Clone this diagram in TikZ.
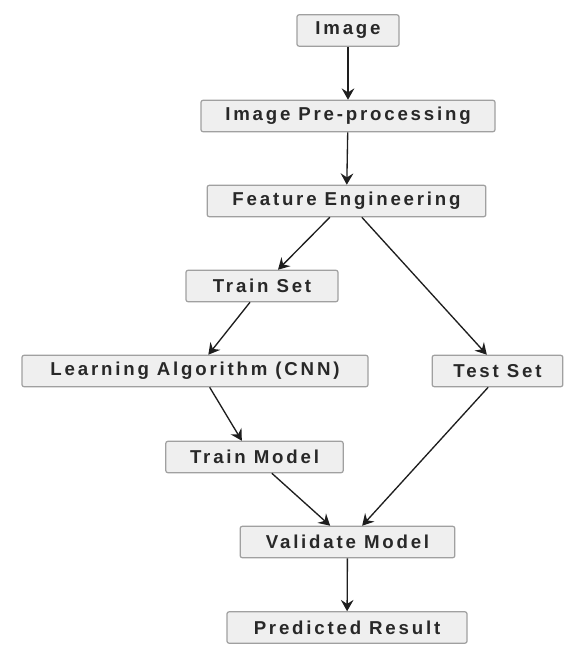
\documentclass[tikz,border=0pt]{standalone}
\usepackage{fontspec}
\setmainfont{Liberation Sans}[LetterSpace=15]
\usetikzlibrary{arrows.meta}
\definecolor{boxfill}{RGB}{239,239,239}
\definecolor{boxline}{RGB}{160,160,160}
\definecolor{boxtext}{RGB}{40,40,40}
\definecolor{flowline}{RGB}{30,30,30}
\tikzset{
	stage/.style={draw=boxline, fill=boxfill, rounded corners=1.5pt, line width=0.9pt,
		minimum height=23.5pt, inner sep=0pt, text=boxtext,
		font=\bfseries\fontsize{14}{16}\selectfont},
	flow/.style={draw=flowline, line width=1pt,
		-{Stealth[length=8.5pt,width=9.5pt,inset=3pt]}}
}
\begin{document}
\begin{tikzpicture}[x=0.75pt,y=0.75pt,yscale=-1,xscale=1]
	\useasboundingbox (0,0) rectangle (570,645);
	%Stages
	\node [stage, minimum width=76.5pt] (img) at (348,30.5) {Image};
	\node [stage, minimum width=220.5pt] (pre) at (348,116) {Image Pre-processing};
	\node [stage, minimum width=209pt] (feat) at (346.5,201) {Feature Engineering};
	\node [stage, minimum width=114pt] (train) at (262,286) {Train Set};
	\node [stage, minimum width=259.5pt] (cnn) at (195,371) {Learning Algorithm (CNN)};
	\node [stage, minimum width=98pt] (test) at (497.5,371) {Test Set};
	\node [stage, minimum width=133pt] (model) at (254.5,457) {Train Model};
	\node [stage, minimum width=161pt] (valid) at (347.5,542) {Validate Model};
	\node [stage, minimum width=180pt] (pred) at (347,627.5) {Predicted Result};
	%Arrows
	\draw [flow] (img) -- (pre);
	\draw [flow] (pre) -- (feat);
	\draw [flow] ([xshift=-12.5pt]feat.south) -- ([xshift=12pt]train.north);
	\draw [flow] ([xshift=11.5pt]feat.south) -- ([xshift=-8pt]test.north);
	\draw [flow] ([xshift=-9pt]train.south) -- ([xshift=10pt]cnn.north);
	\draw [flow] ([xshift=11pt]cnn.south) -- ([xshift=-9.5pt]model.north);
	\draw [flow] ([xshift=-7pt]test.south) -- ([xshift=11pt]valid.north);
	\draw [flow] ([xshift=13pt]model.south) -- ([xshift=-13pt]valid.north);
	\draw [flow] (valid) -- (pred);
\end{tikzpicture}
\end{document}
